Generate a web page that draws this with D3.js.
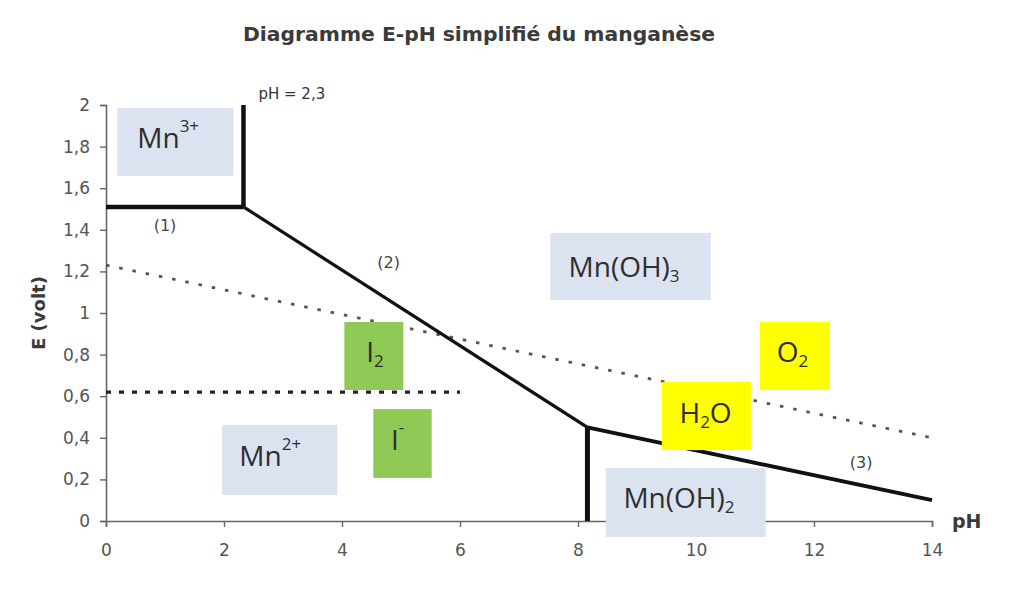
<!DOCTYPE html>
<html><head><meta charset="utf-8">
<script src="https://cdn.jsdelivr.net/npm/d3@7/dist/d3.min.js"></script>
<style>body{margin:0;background:#fff}svg{display:block}</style>
</head><body><svg id="c" width="1022" height="590"></svg>
<script>
// ---- data ----
const chartTitle = "Diagramme E-pH simplifié du manganèse";
const xLabel = "pH";
const yLabel = "E (volt)";
const xTicks = [0, 2, 4, 6, 8, 10, 12, 14];
const yTicks = [0, 0.2, 0.4, 0.6, 0.8, 1, 1.2, 1.4, 1.6, 1.8, 2];
const yTickLabels = ["0", "0,2", "0,4", "0,6", "0,8", "1", "1,2", "1,4", "1,6", "1,8", "2"];

// frontier lines (pH, E)
const frontier1 = [[0, 1.51], [2.33, 1.51]];
const verticalMn3 = [[2.33, 1.51], [2.33, 2.0]];
const frontier2 = [[2.33, 1.51], [8.16, 0.45]];
const verticalMnOH2 = [[8.16, 0.45], [8.16, 0]];
const frontier3 = [[8.16, 0.45], [14, 0.10]];
const waterLine = [[0, 1.23], [14, 0.40]];
const iodineLine = [[0, 0.62], [6, 0.62]];

const frontierNames = ["(1)", "(2)", "(3)"];
const frontierLabelPH = [1.0, 4.79, 12.8];
const frontierLabelE = [1.42, 1.245, 0.284];

const annotPH = 2.33;
const annotText = "pH = 2,3";

// species boxes: [pH min, pH max, E min, E max]
const speciesNames = ["Mn3+", "Mn2+", "I2", "I-", "Mn(OH)3", "O2", "H2O", "Mn(OH)2"];
const speciesKind = ["mn", "mn", "iod", "iod", "mn", "water", "water", "mn"];
const speciesBox = [
  [0.19, 2.16, 1.659, 1.986],
  [1.97, 3.92, 0.125, 0.462],
  [4.04, 5.04, 0.630, 0.957],
  [4.53, 5.52, 0.207, 0.538],
  [7.53, 10.25, 1.062, 1.385],
  [11.08, 12.27, 0.630, 0.957],
  [9.42, 10.93, 0.341, 0.668],
  [8.47, 11.18, -0.077, 0.255]
];
// text start (pH, E at baseline)
const speciesTextPH = [0.53, 2.26, 4.41, 4.83, 7.84, 11.37, 9.72, 8.77];
const speciesTextE = [1.793, 0.264, 0.764, 0.341, 1.173, 0.764, 0.471, 0.0625];
// rich text pieces: [text, mode] mode: 0 normal, 1 sup, -1 sub
const speciesParts = [
  [["Mn", 0], ["3+", 1]],
  [["Mn", 0], ["2+", 1]],
  [["I", 0], ["2", -1]],
  [["I", 0], ["-", 1]],
  [["Mn(OH)", 0], ["3", -1]],
  [["O", 0], ["2", -1]],
  [["H", 0], ["2", -1], ["O", 0]],
  [["Mn(OH)", 0], ["2", -1]]
];

// ---- drawing ----
const svg = d3.select("#c");
const x = d3.scaleLinear().domain([0, 14]).range([106, 932]);
const y = d3.scaleLinear().domain([0, 2]).range([521, 105]);
const line = d3.line().x(d => x(d[0])).y(d => y(d[1]));
const fill = {mn: "#dce3f0", iod: "#8fca56", water: "#ffff00"};

svg.append("text").attr("x", 479).attr("y", 41).attr("text-anchor", "middle")
  .attr("font-family", "DejaVu Sans").attr("font-weight", "bold").attr("font-size", 19)
  .attr("fill", "#3a3a3a").attr("textLength", 472).attr("lengthAdjust", "spacingAndGlyphs")
  .text(chartTitle);

// axes
const yAxis = svg.append("g").attr("transform", `translate(${x(0)},0)`)
  .call(d3.axisLeft(y).tickValues(yTicks).tickSize(6).tickPadding(10)
    .tickFormat((d, i) => yTickLabels[i]));
const xAxis = svg.append("g").attr("transform", `translate(0,${y(0)})`)
  .call(d3.axisBottom(x).tickValues(xTicks).tickSize(6).tickPadding(17)
    .tickFormat(d => d));
[yAxis, xAxis].forEach(g => {
  g.select(".domain").attr("stroke", "#666").attr("stroke-width", 1.6);
  g.selectAll(".tick line").attr("stroke", "#666").attr("stroke-width", 1.4);
  g.selectAll(".tick text").attr("font-family", "DejaVu Sans").attr("font-size", 17).attr("fill", "#555");
});

svg.append("text").attr("x", 952).attr("y", 528)
  .attr("font-family", "DejaVu Sans").attr("font-weight", "bold").attr("font-size", 19)
  .attr("fill", "#3a3a3a").text(xLabel);
svg.append("text").attr("transform", "translate(45,313) rotate(-90)").attr("text-anchor", "middle")
  .attr("font-family", "DejaVu Sans").attr("font-weight", "bold").attr("font-size", 18)
  .attr("fill", "#3a3a3a").text(yLabel);

// dotted lines
svg.append("path").attr("d", line(waterLine)).attr("fill", "none")
  .attr("stroke", "#555").attr("stroke-width", 2.8).attr("stroke-dasharray", "3.5,10");
svg.append("path").attr("d", line(iodineLine)).attr("fill", "none")
  .attr("stroke", "#222").attr("stroke-width", 3.2).attr("stroke-dasharray", "5,8");

// frontiers
const solid = [[frontier1, 4.5], [verticalMn3, 4.5], [frontier2, 3.2], [verticalMnOH2, 5], [frontier3, 3.8]];
solid.forEach(([pts, w]) => {
  svg.append("path").attr("d", line(pts)).attr("fill", "none")
    .attr("stroke", "#111").attr("stroke-width", w).attr("stroke-linejoin", "round");
});

// frontier numbers
frontierNames.forEach((t, i) => {
  svg.append("text").attr("x", x(frontierLabelPH[i])).attr("y", y(frontierLabelE[i]))
    .attr("dy", "0.35em").attr("text-anchor", "middle")
    .attr("font-family", "DejaVu Sans").attr("font-size", 16).attr("fill", "#444").text(t);
});

svg.append("text").attr("x", x(annotPH) + 15).attr("y", 99)
  .attr("font-family", "DejaVu Sans").attr("font-size", 15).attr("fill", "#333").text(annotText);

// species boxes
speciesNames.forEach((n, i) => {
  const b = speciesBox[i];
  svg.append("rect").attr("x", x(b[0])).attr("y", y(b[3]))
    .attr("width", x(b[1]) - x(b[0])).attr("height", y(b[2]) - y(b[3]))
    .attr("fill", fill[speciesKind[i]]);
  const t = svg.append("text").attr("x", x(speciesTextPH[i])).attr("y", y(speciesTextE[i]))
    .attr("font-family", "Open Sans").attr("fill", "#2e2e2e");
  let shift = 0;
  speciesParts[i].forEach(([s, m]) => {
    const target = m === 1 ? (s === "-" ? -17 : -16) : m === -1 ? 5 : 0;
    t.append("tspan").attr("dy", target - shift)
      .attr("font-size", m === 0 ? 28 : 17).text(s);
    shift = target;
  });
});
</script></body></html>
